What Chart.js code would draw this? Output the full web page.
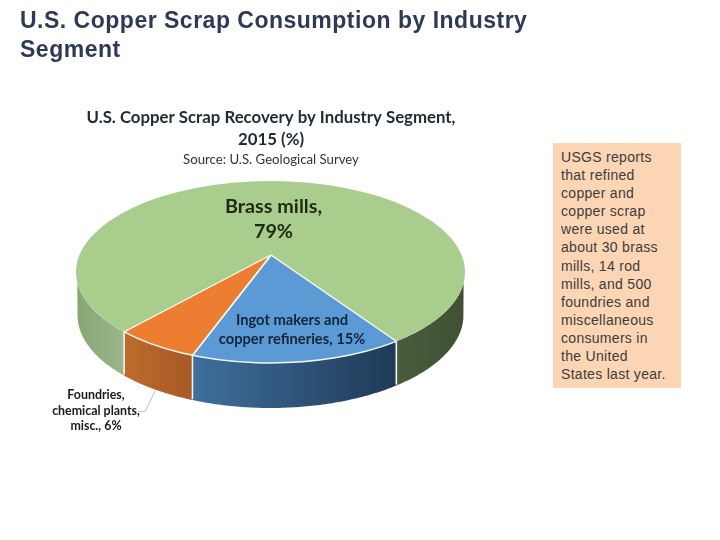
<!DOCTYPE html>
<html><head><meta charset="utf-8">
<script src="https://cdn.jsdelivr.net/npm/chart.js@4"></script>
<style>
html,body{margin:0;padding:0;background:#fff;width:720px;height:540px;overflow:hidden}
#h{position:absolute;left:20px;top:6px;width:530px;font:bold 23px/29px "Liberation Sans",Arial,sans-serif;letter-spacing:.5px;color:#2e3a55}
#n{position:absolute;left:553px;top:143px;width:120px;height:236px;padding:5px 0 4px 8px;background:#fcd5b4;font:14px/18.1px "Liberation Sans",Arial,sans-serif;letter-spacing:.3px;color:#3c3c3c;white-space:pre-line}
#c{position:absolute;left:0;top:0;width:542px;height:540px}
</style></head><body>
<div id="c"><canvas id="cv"></canvas></div>
<div id="h">U.S. Copper Scrap Consumption by Industry Segment</div>
<div id="n">USGS reports
that refined
copper and
copper scrap
were used at
about 30 brass
mills, 14 rod
mills, and 500
foundries and
miscellaneous
consumers in
the United
States last year.</div>
<script>
const categories = ['Brass mills', 'Ingot makers and copper refineries', 'Foundries, chemical plants, misc.'];
const shares = [79, 15, 6];
const titleLines = ['U.S. Copper Scrap Recovery by Industry Segment,', '2015 (%)'];
const sourceLine = 'Source: U.S. Geological Survey';
const labelLines = [['Brass mills,', '79%'], ['Ingot makers and', 'copper refineries, 15%'], ['Foundries,', 'chemical plants,', 'misc., 6%']];
const sliceColors = ['#a9cd8c', '#5b9ad5', '#ed7d31'];
const wallColors = [[['#86a574', '#9bb78b'], ['#4a5c3c', '#3f5132']], [['#3f6f9e', '#1f3a56']], [['#bf6a2c', '#a65a26']]];

const G = {ax: 271, ay: 255, s: 0.465, cx: 270.5, cy: 272, rx: 194.5, ry: 91, cy2: 315, rx2: 193, ry2: 93, reach: 250};
const labelStyle = [
  {x: 273.5, y: 207, lh: 25, font: 'bold 19.8px Lato', color: '#1c2a14'},
  {x: 292, y: 320, lh: 19.5, font: 'bold 14.7px Lato', color: '#14253a'},
  {x: 96, y: 395, lh: 15.5, font: 'bold 12.4px Lato', color: '#1a1a1a'}
];

function rimTheta(a) {
  const dx = Math.cos(a), dy = G.s * Math.sin(a);
  const ox = (G.ax - G.cx) / G.rx, oy = (G.ay - G.cy) / G.ry, ux = dx / G.rx, uy = dy / G.ry;
  const A = ux * ux + uy * uy, B = 2 * (ox * ux + oy * uy), C = ox * ox + oy * oy - 1;
  const t = (-B + Math.sqrt(B * B - 4 * A * C)) / (2 * A);
  return Math.atan2((oy + t * uy), (ox + t * ux));
}
const norm = t => ((t % (2 * Math.PI)) + 2 * Math.PI) % (2 * Math.PI);
const topAt = th => [G.cx + G.rx * Math.cos(th), G.cy + G.ry * Math.sin(th)];
function botY(x, yTop) {
  const u = (x - G.cx) / G.rx2;
  if (Math.abs(u) >= 1) return yTop;
  return Math.max(yTop, G.cy2 + G.ry2 * Math.sqrt(1 - u * u));
}
function wallPieces(arc) {
  let a = norm(rimTheta(arc.startAngle)), b = norm(rimTheta(arc.endAngle));
  if (b <= a) b += 2 * Math.PI;
  const out = [];
  [[0, Math.PI], [2 * Math.PI, 3 * Math.PI]].forEach(([l, h]) => {
    const p = Math.max(a, l), q = Math.min(b, h);
    if (q > p) out.push([p, q]);
  });
  return out;
}
function drawWall(ctx, p, colors) {
  const n = 80, pts = [];
  for (let i = 0; i <= n; i++) pts.push(topAt(p[0] + (p[1] - p[0]) * i / n));
  const xs = pts.map(q => q[0]);
  const g = ctx.createLinearGradient(Math.min(...xs), 0, Math.max(...xs), 0);
  g.addColorStop(0, colors[0]);
  g.addColorStop(1, colors[1]);
  ctx.beginPath();
  pts.forEach((q, i) => i ? ctx.lineTo(q[0], q[1]) : ctx.moveTo(q[0], q[1]));
  for (let i = n; i >= 0; i--) ctx.lineTo(pts[i][0], botY(pts[i][0], pts[i][1]));
  ctx.closePath();
  ctx.fillStyle = g;
  ctx.fill();
}
const pie3d = {
  id: 'pie3d',
  beforeDatasetsDraw(chart) {
    const ctx = chart.ctx, arcs = chart.getDatasetMeta(0).data;
    arcs.forEach((arc, i) => wallPieces(arc).forEach((p, j) => drawWall(ctx, p, wallColors[i][j])));
    ctx.save();
    ctx.strokeStyle = '#f4f4ee'; ctx.lineWidth = 1.6;
    arcs.forEach(arc => {
      const th = norm(rimTheta(arc.startAngle));
      if (th > 0 && th < Math.PI) {
        const q = topAt(th);
        ctx.beginPath(); ctx.moveTo(q[0], q[1]); ctx.lineTo(q[0], botY(q[0], q[1]) - 1); ctx.stroke();
      }
    });
    ctx.restore();
    ctx.save();
    ctx.beginPath(); ctx.ellipse(G.cx, G.cy, G.rx, G.ry, 0, 0, 2 * Math.PI); ctx.clip();
    const k = G.reach / arcs[0].outerRadius;
    ctx.translate(G.ax, G.ay); ctx.scale(k, k * G.s); ctx.translate(-arcs[0].x, -arcs[0].y);
    arcs.forEach(a => a.draw(ctx));
    ctx.restore();
    ctx.save();
    ctx.strokeStyle = '#f2f6ee'; ctx.lineWidth = 1.5;
    ctx.beginPath();
    ctx.ellipse(G.cx, G.cy, G.rx, G.ry, 0, norm(rimTheta(arcs[0].endAngle)), norm(rimTheta(arcs[0].startAngle)));
    ctx.stroke();
    ctx.restore();
    const o = arcs[2], m = topAt(norm(rimTheta((o.startAngle + o.endAngle) / 2)));
    ctx.save();
    ctx.strokeStyle = '#b0b0b0'; ctx.lineWidth = 0.8;
    ctx.beginPath(); ctx.moveTo(m[0], botY(m[0], m[1]) + 1); ctx.lineTo(m[0] - 10, botY(m[0], m[1]) + 22); ctx.lineTo(m[0] - 17, botY(m[0], m[1]) + 22); ctx.stroke();
    ctx.restore();
    return false;
  },
  afterDraw(chart) {
    const ctx = chart.ctx;
    ctx.save();
    ctx.textAlign = 'center'; ctx.textBaseline = 'middle';
    labelLines.forEach((lines, i) => {
      const st = labelStyle[i];
      ctx.font = st.font; ctx.fillStyle = st.color;
      lines.forEach((t, j) => ctx.fillText(t, st.x, st.y + j * st.lh));
    });
    ctx.restore();
  }
};
new Chart(document.getElementById('cv'), {
  type: 'pie',
  data: {labels: categories, datasets: [{data: shares, backgroundColor: sliceColors, borderColor: '#f6f8f0', borderWidth: 1.4}]},
  plugins: [pie3d],
  options: {
    responsive: true, maintainAspectRatio: false, animation: false, events: [],
    rotation: 221.6,
    plugins: {
      legend: {display: false}, tooltip: {enabled: false},
      title: {display: true, text: titleLines, color: '#1f2a35', font: {family: 'Lato', size: 16.8, weight: 'bold', lineHeight: 1.3}, padding: {top: 107, bottom: 0}},
      subtitle: {display: true, text: sourceLine, color: '#333', font: {family: 'Lato', size: 13.2}, padding: {top: 1, bottom: 0}}
    }
  }
});
</script>
</body></html>
